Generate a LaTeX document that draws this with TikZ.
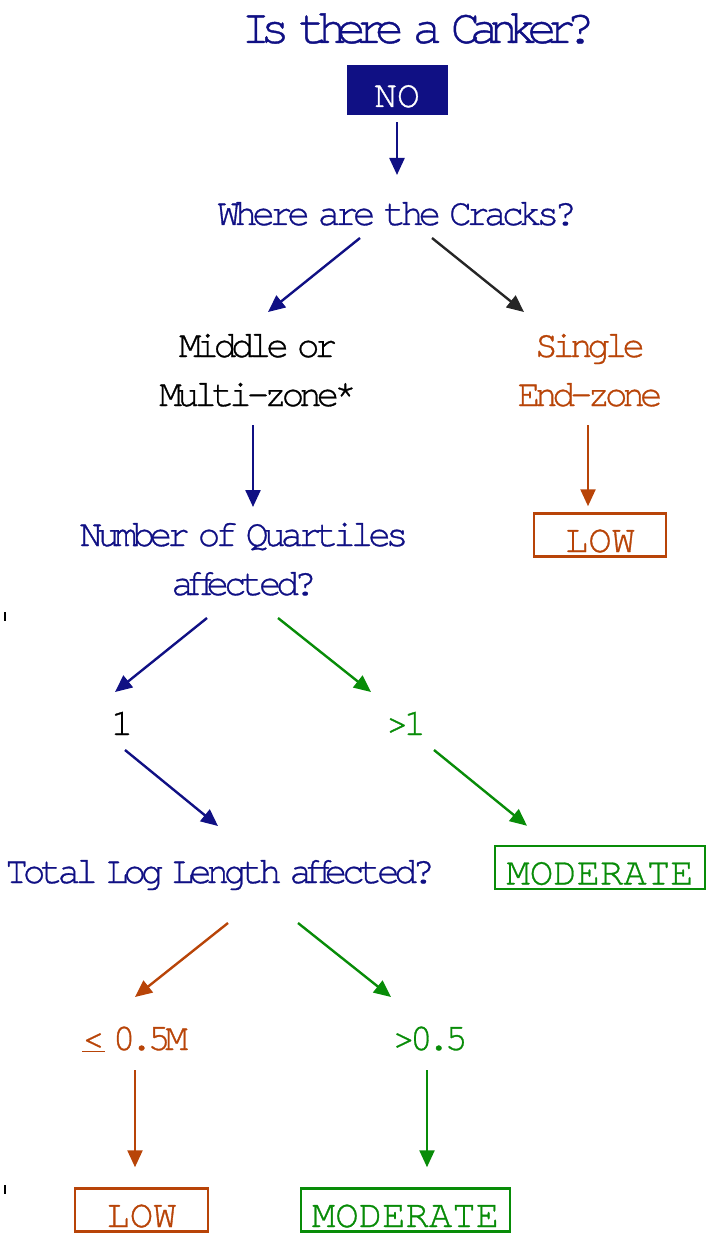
\documentclass[tikz,border=0pt]{standalone}
\usepackage{fontspec}
\usepackage{tikz}
\usetikzlibrary{arrows.meta}
\setmonofont[FakeBold=0.8]{TeX Gyre Cursor}
\newfontfamily\squeezedMono[LetterSpace=-14, WordSpace=0.45, FakeBold=0.8]{TeX Gyre Cursor}
\newfontfamily\titleMono[LetterSpace=-21, WordSpace=0.45, FakeBold=0.8]{TeX Gyre Cursor}
\definecolor{navyColor}{RGB}{16,16,132}
\definecolor{rustColor}{RGB}{184,68,8}
\definecolor{leafColor}{RGB}{8,140,8}
\tikzstyle{chart} = [x = 1pt, y = -1pt]
\tikzstyle{questionText} = [inner sep = 0pt, anchor = base, align = center, font = \squeezedMono\fontsize{38}{49}\selectfont]
\tikzstyle{resultBox} = [draw, fill = white, line width = 2.5pt, inner sep = 0pt, minimum height = 43pt, text height = 34pt, text depth = 0pt, font = \ttfamily\fontsize{39}{39}\selectfont]
\tikzstyle{answerFilled} = [fill = navyColor, text = white, inner sep = 0pt, minimum width = 101pt, minimum height = 50pt, text height = 34pt, text depth = 0pt, font = \ttfamily\fontsize{38}{38}\selectfont]
\tikzstyle{flowArrow} = [line width = 2.4pt, -{Triangle[length = 17pt, width = 15pt]}]
\newcommand{\strayTick}[1]{\draw [line width = 1.5pt] (5, #1) -- + (0, 9);}

\begin{document}
\begin{tikzpicture}[chart]
  \useasboundingbox (0, 0) rectangle (710, 1238);

  % questions and answers
  \node [questionText, font = \titleMono\fontsize{49}{49}\selectfont, text = navyColor] (canker) at (418, 43) {Is there a Canker?};
  \node [answerFilled] (noBox) at (397, 90) {NO};
  \node [questionText, text = navyColor] (cracks) at (397, 225) {Where are the Cracks?};
  \node [questionText] (middle) at (258, 406) {Middle or\\Multi-zone*};
  \node [questionText, text = rustColor] (single) at (590, 406) {Single\\End-zone};
  \node [resultBox, draw = rustColor, text = rustColor, minimum width = 132pt] (lowTop) at (600, 535) {LOW};
  \node [questionText, text = navyColor] (quartiles) at (244, 595) {Number of Quartiles\\affected?};
  \node [questionText] (one) at (122, 735) {1};
  \node [questionText, text = leafColor] (moreOne) at (406, 735) {>1};
  \node [questionText, text = navyColor] (totalLog) at (220, 883) {Total Log Length affected?};
  \node [resultBox, draw = leafColor, text = leafColor, minimum width = 210pt] (moderateTop) at (600, 867.5) {MODERATE};
  \node [questionText, text = rustColor] (lessHalf) at (135, 1050) {\underline{<} 0.5M};
  \node [questionText, text = leafColor] (moreHalf) at (430, 1050) {>0.5};
  \node [resultBox, draw = rustColor, text = rustColor, minimum width = 133pt] (lowBottom) at (141.5, 1210) {LOW};
  \node [resultBox, draw = leafColor, text = leafColor, minimum width = 209pt] (moderateBottom) at (405.5, 1210) {MODERATE};

  % arrows
  \draw [flowArrow, navyColor] ([yshift = -7pt]noBox.south) -- ([shift = {(0, -50)}]cracks.base);
  \draw [flowArrow, navyColor] ([shift = {(-37, 13)}]cracks.base) -- ([shift = {(10, -94)}]middle.base);
  \draw [flowArrow, black!85] ([shift = {(35, 13)}]cracks.base) -- ([shift = {(-66, -94)}]single.base);
  \draw [flowArrow, navyColor] ([shift = {(-5, 19)}]middle.base) -- ([shift = {(9, -88)}]quartiles.base);
  \draw [flowArrow, rustColor] ([shift = {(-2, 19)}]single.base) -- ([shift = {(-12, -6)}]lowTop.north);
  \draw [flowArrow, navyColor] ([shift = {(-37, 23)}]quartiles.base) -- ([shift = {(-7, -43)}]one.base);
  \draw [flowArrow, leafColor] ([shift = {(34, 23)}]quartiles.base) -- ([shift = {(-35, -43)}]moreOne.base);
  \draw [flowArrow, navyColor] ([shift = {(3, 15)}]one.base) -- ([shift = {(-2, -57)}]totalLog.base);
  \draw [flowArrow, leafColor] ([shift = {(28, 15)}]moreOne.base) -- ([shift = {(-73, -19)}]moderateTop.north);
  \draw [flowArrow, rustColor] ([shift = {(8, 40)}]totalLog.base) -- ([shift = {(0, -53)}]lessHalf.base);
  \draw [flowArrow, leafColor] ([shift = {(78, 40)}]totalLog.base) -- ([shift = {(-39, -53)}]moreHalf.base);
  \draw [flowArrow, rustColor] ([shift = {(0, 20)}]lessHalf.base) -- ([shift = {(-6.5, -20)}]lowBottom.north);
  \draw [flowArrow, leafColor] ([shift = {(-3, 20)}]moreHalf.base) -- ([shift = {(21.5, -20)}]moderateBottom.north);

  \strayTick{612}
  \strayTick{1185}
\end{tikzpicture}
\end{document}
